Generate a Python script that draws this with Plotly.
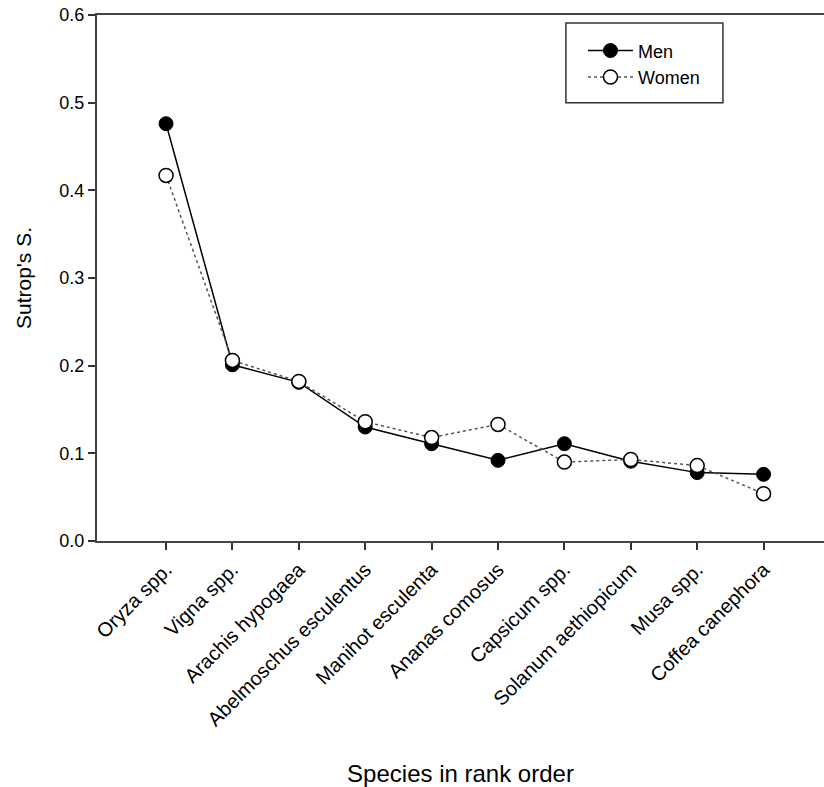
import plotly.graph_objects as go

species = ["Oryza spp.", "Vigna spp.", "Arachis hypogaea", "Abelmoschus esculentus",
           "Manihot esculenta", "Ananas comosus", "Capsicum spp.", "Solanum aethiopicum",
           "Musa spp.", "Coffea canephora"]
men = [0.476, 0.201, 0.181, 0.130, 0.111, 0.092, 0.111, 0.091, 0.078, 0.076]
women = [0.417, 0.206, 0.182, 0.136, 0.118, 0.133, 0.090, 0.093, 0.086, 0.054]
yticks = [0.0, 0.1, 0.2, 0.3, 0.4, 0.5, 0.6]

xpos = list(range(len(species)))
FONT = "Liberation Sans, Arial, sans-serif"

fig = go.Figure()
fig.add_trace(go.Scatter(
    x=xpos, y=men, name="Men", mode="lines+markers",
    line=dict(color="black", width=1.5),
    marker=dict(symbol="circle", size=14, color="black", line=dict(color="black", width=1)),
))
fig.add_trace(go.Scatter(
    x=xpos, y=women, name="Women", mode="lines+markers",
    line=dict(color="#555555", width=1.5, dash="dot"),
    marker=dict(symbol="circle", size=14, color="white", line=dict(color="black", width=1.5)),
))

# legend frame
fig.add_shape(type="rect", xref="paper", yref="paper",
              x0=0.645, x1=0.861, y0=0.833, y1=0.985,
              line=dict(color="#333333", width=1.5), fillcolor="white", layer="below")

fig.update_layout(
    width=824, height=787,
    margin=dict(l=97, r=0, t=15, b=246),
    plot_bgcolor="white", paper_bgcolor="white",
    font=dict(family=FONT, size=17, color="black"),
    showlegend=True,
    legend=dict(
        x=(583 - 97) / 727, y=0.967, xanchor="left", yanchor="top",
        borderwidth=0, bgcolor="rgba(0,0,0,0)",
        font=dict(family=FONT, size=18), tracegroupgap=0,
        itemwidth=45,
    ),
    xaxis=dict(
        range=[-1.04, 9.91], tickmode="array", tickvals=xpos, ticktext=species,
        tickangle=-45, ticks="outside", ticklen=7, tickwidth=1.5, tickcolor="#333333",
        showline=True, linecolor="#444444", linewidth=2, mirror=True,
        showgrid=False, zeroline=False,
        title=dict(text="Species in rank order", font=dict(family=FONT, size=24), standoff=38),
        tickfont=dict(family=FONT, size=20),
    ),
    yaxis=dict(
        range=[0, 0.6], tickmode="array", tickvals=yticks,
        ticktext=[f"{v:.1f}" for v in yticks],
        ticks="outside", ticklen=7, tickwidth=1.5, tickcolor="#333333",
        showline=True, linecolor="#444444", linewidth=2,
        showgrid=False, zeroline=False,
        title=dict(text="Sutrop's S.", font=dict(family=FONT, size=21), standoff=22),
        tickfont=dict(family=FONT, size=18),
    ),
)

fig.write_html("out.html")
